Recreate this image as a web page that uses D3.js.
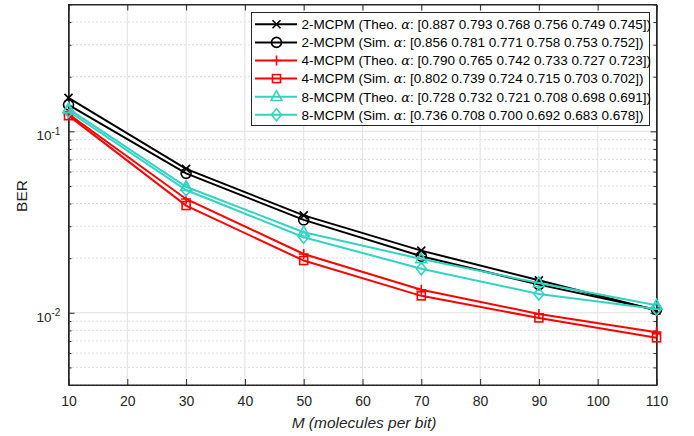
<!DOCTYPE html>
<html><head><meta charset="utf-8">
<script src="https://cdn.jsdelivr.net/npm/d3@7"></script>
<style>
body{margin:0;background:#fff;}
svg{display:block;font-family:"Liberation Sans",Arial,sans-serif;}
</style></head>
<body><svg id="c" width="694" height="436"></svg>
<script>
const M = [10, 30, 50, 70, 90, 110];
const ber2Theo = [0.153, 0.0621, 0.0344, 0.0220, 0.0151, 0.0103];
const ber2Sim  = [0.140, 0.0587, 0.0325, 0.0205, 0.0143, 0.0104];
const ber4Theo = [0.1247, 0.0424, 0.0211, 0.0134, 0.00986, 0.00782];
const ber4Sim  = [0.122, 0.0390, 0.0194, 0.0124, 0.00937, 0.00728];
const ber8Theo = [0.133, 0.0495, 0.0278, 0.0198, 0.0146, 0.0110];
const ber8Sim  = [0.129, 0.0475, 0.0261, 0.0175, 0.0127, 0.0105];
const legendPrefix = ["2-MCPM (Theo. ", "2-MCPM (Sim. ", "4-MCPM (Theo. ", "4-MCPM (Sim. ", "8-MCPM (Theo. ", "8-MCPM (Sim. "];
const alphaLists = ["[0.887 0.793 0.768 0.756 0.749 0.745])", "[0.856 0.781 0.771 0.758 0.753 0.752])",
  "[0.790 0.765 0.742 0.733 0.727 0.723])", "[0.802 0.739 0.724 0.715 0.703 0.702])",
  "[0.728 0.732 0.721 0.708 0.698 0.691])", "[0.736 0.708 0.700 0.692 0.683 0.678])"];
const xTicks = [10, 20, 30, 40, 50, 60, 70, 80, 90, 100, 110];
const yMajor = [0.01, 0.1];

const series = [
  {v: ber2Theo, color: "#000000", marker: "x"},
  {v: ber2Sim,  color: "#000000", marker: "o"},
  {v: ber4Theo, color: "#ff0000", marker: "+"},
  {v: ber4Sim,  color: "#ff0000", marker: "s"},
  {v: ber8Theo, color: "#33d3c3", marker: "^"},
  {v: ber8Sim,  color: "#33d3c3", marker: "d"},
];

const svg = d3.select("#c");
const L = 68.5, R = 656.5, T = 4.5, B = 385;
const x = d3.scaleLinear().domain([10, 110]).range([L, R]);
const y = d3.scaleLog().domain([0.004, 0.5]).range([B, T]);
const axisCol = "#262626";

const minor = [];
[0.001, 0.01, 0.1].forEach(d => { for (let k = 2; k <= 9; k++) { const v = d * k; if (v >= 0.004 && v <= 0.5 + 1e-9) minor.push(v); } });

const g = svg.append("g");
g.selectAll(".mg").data(minor).join("line")
  .attr("x1", L).attr("x2", R).attr("y1", d => y(d)).attr("y2", d => y(d))
  .attr("stroke", "#bdbdbd").attr("stroke-width", 1).attr("stroke-dasharray", "1,3");
g.selectAll(".vg").data(xTicks).join("line")
  .attr("x1", d => x(d)).attr("x2", d => x(d)).attr("y1", T).attr("y2", B)
  .attr("stroke", "#e0e0e0").attr("stroke-width", 1);
g.selectAll(".hg").data(yMajor).join("line")
  .attr("x1", L).attr("x2", R).attr("y1", d => y(d)).attr("y2", d => y(d))
  .attr("stroke", "#e0e0e0").attr("stroke-width", 1);

const xb = svg.append("g").attr("transform", `translate(0,${B})`)
  .call(d3.axisBottom(x).tickValues(xTicks).tickSizeInner(-6).tickSizeOuter(0).tickPadding(11).tickFormat(d3.format("d")));
const xt = svg.append("g").attr("transform", `translate(0,${T})`)
  .call(d3.axisTop(x).tickValues(xTicks).tickSizeInner(-6).tickSizeOuter(0).tickFormat(""));
const yl = svg.append("g").attr("transform", `translate(${L},0)`)
  .call(d3.axisLeft(y).tickValues(yMajor).tickSizeInner(-6).tickSizeOuter(0).tickFormat(""));
const yr = svg.append("g").attr("transform", `translate(${R},0)`)
  .call(d3.axisRight(y).tickValues(yMajor).tickSizeInner(-6).tickSizeOuter(0).tickFormat(""));
const ylm = svg.append("g").attr("transform", `translate(${L},0)`)
  .call(d3.axisLeft(y).tickValues(minor).tickSizeInner(-3).tickSizeOuter(0).tickFormat(""));
const yrm = svg.append("g").attr("transform", `translate(${R},0)`)
  .call(d3.axisRight(y).tickValues(minor).tickSizeInner(-3).tickSizeOuter(0).tickFormat(""));
[xb, xt, yl, yr, ylm, yrm].forEach(a => {
  a.select(".domain").attr("stroke", axisCol);
  a.selectAll(".tick line").attr("stroke", axisCol);
});
xb.selectAll("text").attr("font-size", 14).attr("fill", axisCol).attr("font-family", "Liberation Sans, Arial, sans-serif");
yl.selectAll(".tick").each(function(d) {
  const t = d3.select(this).append("text").attr("x", -32).attr("y", 8.5).attr("text-anchor", "start")
    .attr("fill", axisCol).attr("font-size", 13.5).attr("font-family", "Liberation Sans, Arial, sans-serif");
  t.append("tspan").text("10");
  t.append("tspan").attr("dy", -5.5).attr("font-size", 10).text(String(Math.round(Math.log10(d))));
});
svg.append("rect").attr("x", L).attr("y", T).attr("width", R - L).attr("height", B - T)
  .attr("fill", "none").attr("stroke", axisCol).attr("stroke-width", 1);

svg.append("text").attr("x", 364).attr("y", 427.5).attr("text-anchor", "middle")
  .attr("font-size", 15.5).attr("font-style", "italic").attr("fill", axisCol).text("M (molecules per bit)");
svg.append("text").attr("transform", `translate(26.5,196) rotate(-90)`).attr("text-anchor", "middle")
  .attr("font-size", 15.5).attr("fill", axisCol).text("BER");

function drawMarker(sel, type, color) {
  const s = 4;
  const sw = 1.6;
  if (type === "x") {
    sel.append("path").attr("d", `M${-s},${-s}L${s},${s}M${-s},${s}L${s},${-s}`).attr("stroke", color).attr("stroke-width", sw).attr("fill", "none");
  } else if (type === "+") {
    sel.append("path").attr("d", `M${-s - 1},0L${s + 1},0M0,${-s - 1}L0,${s + 1}`).attr("stroke", color).attr("stroke-width", sw).attr("fill", "none");
  } else if (type === "o") {
    sel.append("circle").attr("r", 5).attr("stroke", color).attr("stroke-width", sw).attr("fill", "none");
  } else if (type === "s") {
    sel.append("rect").attr("x", -4).attr("y", -4).attr("width", 8).attr("height", 8).attr("stroke", color).attr("stroke-width", sw).attr("fill", "none");
  } else if (type === "^") {
    sel.append("path").attr("d", "M0,-6L5.5,3.8L-5.5,3.8Z").attr("stroke", color).attr("stroke-width", sw).attr("fill", "none");
  } else if (type === "d") {
    sel.append("path").attr("d", "M0,-6L5,0L0,6L-5,0Z").attr("stroke", color).attr("stroke-width", sw).attr("fill", "none");
  }
}

const line = d3.line().x(d => x(d[0])).y(d => y(d[1]));
series.forEach(s => {
  const pts = M.map((m, i) => [m, s.v[i]]);
  svg.append("path").datum(pts).attr("d", line).attr("fill", "none").attr("stroke", s.color).attr("stroke-width", 2);
  pts.forEach(p => {
    const mg = svg.append("g").attr("transform", `translate(${x(p[0])},${y(p[1])})`);
    drawMarker(mg, s.marker, s.color);
  });
});

const lx = 251, ly = 12, lw = 398, lh = 113;
svg.append("rect").attr("x", lx + 0.5).attr("y", ly + 0.5).attr("width", lw).attr("height", lh)
  .attr("fill", "#fff").attr("stroke", axisCol).attr("stroke-width", 1);
series.forEach((s, i) => {
  const cy = 24.3 + i * 18.1;
  svg.append("line").attr("x1", 255).attr("x2", 297).attr("y1", cy).attr("y2", cy).attr("stroke", s.color).attr("stroke-width", 2);
  drawMarker(svg.append("g").attr("transform", `translate(276.5,${cy})`), s.marker, s.color);
  const t = svg.append("text").attr("x", 301.5).attr("y", cy).attr("dy", "0.36em").attr("font-size", 13.5).attr("fill", "#000");
  t.append("tspan").text(legendPrefix[i]);
  t.append("tspan").attr("font-family", "DejaVu Serif, serif").attr("font-style", "italic").attr("font-size", 13).text("α");
  t.append("tspan").text(": " + alphaLists[i]);
});
</script></body></html>
